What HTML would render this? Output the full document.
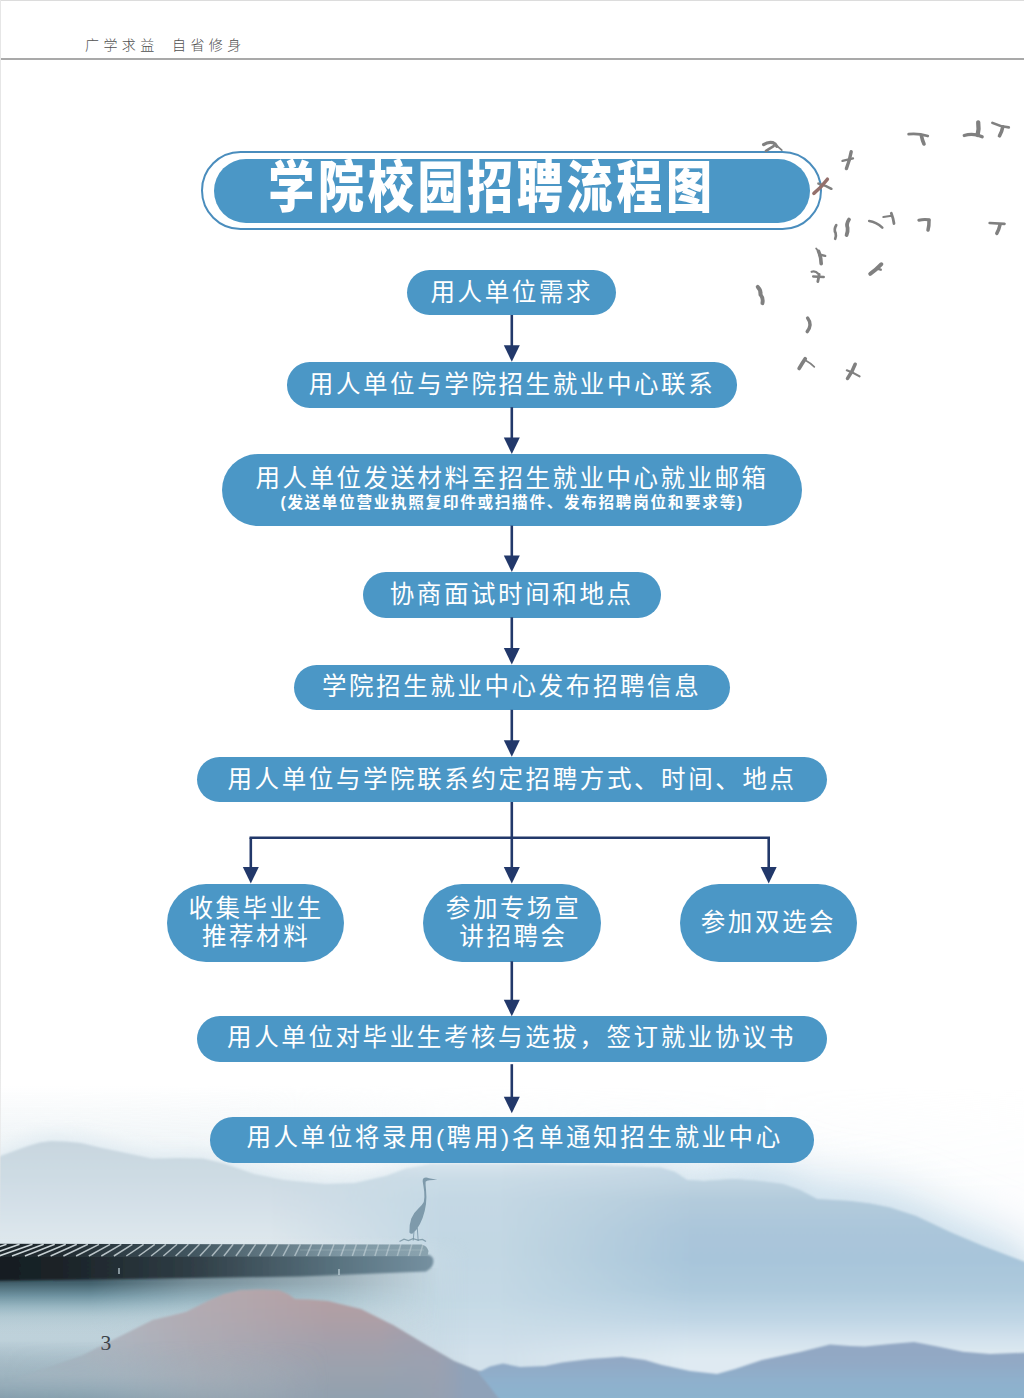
<!DOCTYPE html>
<html lang="zh-CN">
<head>
<meta charset="utf-8">
<title>学院校园招聘流程图</title>
<style>
html,body{margin:0;padding:0;background:#fff}
body{font-family:"Liberation Sans","Noto Sans CJK SC",sans-serif}
.page{position:relative;width:1024px;height:1398px;overflow:hidden;background:#fff}
.bg,.ov,.birds{position:absolute;left:0;top:0;display:block}
.tx{position:absolute;white-space:nowrap;color:#fff;font-weight:normal;font-family:"Liberation Sans","Noto Sans CJK SC",sans-serif}
.hdr{position:absolute;left:0;top:0;width:1024px;height:58px;margin:0}
.hline{position:absolute;left:0;top:58px;width:1024px;height:2px;background:#a9a9a9}
.frame-t{position:absolute;left:0;top:0;width:1024px;height:1px;background:#dcdcdc}
.frame-l{position:absolute;left:0;top:0;width:1px;height:1240px;background:linear-gradient(#e6e6e6,#e6e6e6 85%,rgba(230,230,230,0))}
.banner-o{position:absolute;left:201px;top:151px;width:616.5px;height:74.6px;border:2px solid #4a8dbd;border-radius:40px;box-sizing:content-box}
.banner{position:absolute;left:214px;top:159px;width:596px;height:63.5px;border-radius:32px;background:#4b97c6;margin:0}
.pill{position:absolute;background:#4b97c6}
.pno{position:absolute;left:100.5px;top:1329.5px;font-family:"Liberation Serif",serif;font-size:21.5px;line-height:26px;color:#3c4248}

</style>
</head>
<body>
<div class="page">
<svg class="bg" width="1024" height="1398" viewBox="0 0 1024 1398">
<defs><linearGradient id="sky" gradientUnits="userSpaceOnUse" x1="0" y1="1085" x2="0" y2="1190"><stop offset="0.0000" stop-color="#eef3f6" stop-opacity="0"/><stop offset="0.4286" stop-color="#f0f5f7" stop-opacity="0.8"/><stop offset="1.0000" stop-color="#e9f0f4"/></linearGradient><linearGradient id="mSkyG" gradientUnits="userSpaceOnUse" x1="0" y1="0" x2="1024" y2="0"><stop offset="0.0000" stop-color="#fff" stop-opacity="1"/><stop offset="0.2441" stop-color="#fff" stop-opacity="0.9"/><stop offset="0.4102" stop-color="#fff" stop-opacity="0.45"/><stop offset="0.5859" stop-color="#fff" stop-opacity="0.3"/><stop offset="1.0000" stop-color="#fff" stop-opacity="0.1"/></linearGradient><mask id="mSky" maskUnits="userSpaceOnUse" x="-10" y="1060" width="1044" height="340"><rect x="-10" y="1060" width="1044" height="340" fill="url(#mSkyG)"/></mask><linearGradient id="farL" gradientUnits="userSpaceOnUse" x1="0" y1="1141" x2="0" y2="1245"><stop offset="0.0000" stop-color="#c8d6df"/><stop offset="0.3269" stop-color="#cddbe3"/><stop offset="0.6154" stop-color="#d4e0e8"/><stop offset="1.0000" stop-color="#dfe8ed"/></linearGradient><linearGradient id="farMid" gradientUnits="userSpaceOnUse" x1="0" y1="1164" x2="0" y2="1356"><stop offset="0.0000" stop-color="#d6e4ec"/><stop offset="0.0833" stop-color="#c9dbe6"/><stop offset="0.1875" stop-color="#c4d8e4"/><stop offset="0.4479" stop-color="#c2d7e3"/><stop offset="0.7083" stop-color="#c4d9e5"/><stop offset="0.8646" stop-color="#cbdde8"/><stop offset="1.0000" stop-color="#d2e1eb"/></linearGradient><linearGradient id="mMidG" gradientUnits="userSpaceOnUse" x1="0" y1="0" x2="1024" y2="0"><stop offset="0.0000" stop-color="#fff" stop-opacity="0"/><stop offset="0.2637" stop-color="#fff" stop-opacity="0"/><stop offset="0.4297" stop-color="#fff" stop-opacity="1"/><stop offset="1.0000" stop-color="#fff" stop-opacity="1"/></linearGradient><mask id="mMid" maskUnits="userSpaceOnUse" x="-10" y="1060" width="1044" height="340"><rect x="-10" y="1060" width="1044" height="340" fill="url(#mMidG)"/></mask><linearGradient id="farR" gradientUnits="userSpaceOnUse" x1="0" y1="1165" x2="0" y2="1358"><stop offset="0.0000" stop-color="#c5d8e5"/><stop offset="0.1036" stop-color="#bdd2e0"/><stop offset="0.1813" stop-color="#b3cbdc"/><stop offset="0.3368" stop-color="#abc6da"/><stop offset="0.4922" stop-color="#a8c5da"/><stop offset="0.6477" stop-color="#aecadd"/><stop offset="0.8031" stop-color="#c0d6e5"/><stop offset="0.9067" stop-color="#d3e2ed"/><stop offset="1.0000" stop-color="#dfeaf2"/></linearGradient><linearGradient id="mRG" gradientUnits="userSpaceOnUse" x1="0" y1="0" x2="1024" y2="0"><stop offset="0.0000" stop-color="#fff" stop-opacity="0"/><stop offset="0.4883" stop-color="#fff" stop-opacity="0"/><stop offset="0.6738" stop-color="#fff" stop-opacity="1"/><stop offset="1.0000" stop-color="#fff" stop-opacity="1"/></linearGradient><mask id="mR" maskUnits="userSpaceOnUse" x="-10" y="1060" width="1044" height="340"><rect x="-10" y="1060" width="1044" height="340" fill="url(#mRG)"/></mask><linearGradient id="water" gradientUnits="userSpaceOnUse" x1="0" y1="1236" x2="0" y2="1398"><stop offset="0.0000" stop-color="#dfe8ed" stop-opacity="0"/><stop offset="0.1605" stop-color="#cfdde5"/><stop offset="0.3951" stop-color="#bfd3dc"/><stop offset="0.6481" stop-color="#bed1da"/><stop offset="0.7160" stop-color="#b6cad4"/><stop offset="0.8580" stop-color="#a5bac5"/><stop offset="1.0000" stop-color="#94abb7"/></linearGradient><linearGradient id="mWG" gradientUnits="userSpaceOnUse" x1="0" y1="0" x2="1024" y2="0"><stop offset="0.0000" stop-color="#fff" stop-opacity="1"/><stop offset="0.3223" stop-color="#fff" stop-opacity="1"/><stop offset="0.4590" stop-color="#fff" stop-opacity="0"/><stop offset="1.0000" stop-color="#fff" stop-opacity="0"/></linearGradient><mask id="mW" maskUnits="userSpaceOnUse" x="-10" y="1060" width="1044" height="340"><rect x="-10" y="1060" width="1044" height="340" fill="url(#mWG)"/></mask><linearGradient id="shadow" gradientUnits="userSpaceOnUse" x1="0" y1="1268" x2="0" y2="1334"><stop offset="0.0000" stop-color="#2f4853"/><stop offset="0.2424" stop-color="#45636f"/><stop offset="0.4242" stop-color="#6b909e" stop-opacity="0.95"/><stop offset="0.5909" stop-color="#8fb0bc" stop-opacity="0.8"/><stop offset="0.7576" stop-color="#a9c3cd" stop-opacity="0.5"/><stop offset="1.0000" stop-color="#b9ced7" stop-opacity="0"/></linearGradient><linearGradient id="mSG" gradientUnits="userSpaceOnUse" x1="0" y1="0" x2="1024" y2="0"><stop offset="0.0000" stop-color="#fff" stop-opacity="1"/><stop offset="0.0879" stop-color="#fff" stop-opacity="1"/><stop offset="0.1855" stop-color="#fff" stop-opacity="0.62"/><stop offset="0.3320" stop-color="#fff" stop-opacity="0.3"/><stop offset="0.4297" stop-color="#fff" stop-opacity="0"/><stop offset="1.0000" stop-color="#fff" stop-opacity="0"/></linearGradient><mask id="mS" maskUnits="userSpaceOnUse" x="-10" y="1240" width="1044" height="120"><rect x="-10" y="1240" width="1044" height="120" fill="url(#mSG)"/></mask><linearGradient id="pierTop" gradientUnits="userSpaceOnUse" x1="0" y1="0" x2="432" y2="0"><stop offset="0" stop-color="#1e282d"/><stop offset=".14" stop-color="#202a30"/><stop offset=".44" stop-color="#41555f"/><stop offset=".79" stop-color="#7e97a3"/><stop offset="1" stop-color="#8aa3af"/></linearGradient><linearGradient id="pierSide" gradientUnits="userSpaceOnUse" x1="0" y1="0" x2="432" y2="0"><stop offset="0" stop-color="#171e23"/><stop offset=".14" stop-color="#1b2328"/><stop offset=".44" stop-color="#2f3d45"/><stop offset=".79" stop-color="#5a7481"/><stop offset="1" stop-color="#7590a0"/></linearGradient><linearGradient id="red" gradientUnits="userSpaceOnUse" x1="0" y1="1289" x2="0" y2="1398"><stop offset="0.0000" stop-color="#b59fa2"/><stop offset="0.2844" stop-color="#ad9fa6"/><stop offset="0.5138" stop-color="#a3a0ab"/><stop offset="0.7431" stop-color="#9ba2ae"/><stop offset="1.0000" stop-color="#92a1af"/></linearGradient><linearGradient id="redL" gradientUnits="userSpaceOnUse" x1="0" y1="0" x2="330" y2="0"><stop offset="0" stop-color="#a9bcc7" stop-opacity=".95"/><stop offset=".35" stop-color="#b2bcc6" stop-opacity=".75"/><stop offset=".62" stop-color="#b3b3bb" stop-opacity=".55"/><stop offset="1" stop-color="#b3b3bb" stop-opacity="0"/></linearGradient><linearGradient id="redR" gradientUnits="userSpaceOnUse" x1="380" y1="0" x2="500" y2="0"><stop offset="0" stop-color="#8fa2b9" stop-opacity="0"/><stop offset=".45" stop-color="#9aa0b2" stop-opacity=".5"/><stop offset=".7" stop-color="#8fa2b9" stop-opacity=".95"/><stop offset="1" stop-color="#8fa2b9" stop-opacity="1"/></linearGradient><linearGradient id="front" gradientUnits="userSpaceOnUse" x1="0" y1="1342" x2="0" y2="1398"><stop offset="0.0000" stop-color="#93a8c4"/><stop offset="0.3571" stop-color="#92a9c5"/><stop offset="0.6786" stop-color="#8fb0cc"/><stop offset="1.0000" stop-color="#8cb3cf"/></linearGradient><filter id="b07" x="-5%" y="-5%" width="110%" height="110%"><feGaussianBlur stdDeviation=".8"/></filter><filter id="b1" x="-5%" y="-20%" width="110%" height="140%"><feGaussianBlur stdDeviation="1.1"/></filter><filter id="b22" x="-10%" y="-40%" width="120%" height="180%"><feGaussianBlur stdDeviation="22"/></filter><linearGradient id="mHaloG" gradientUnits="userSpaceOnUse" x1="0" y1="0" x2="1024" y2="0"><stop offset="0.0000" stop-color="#fff" stop-opacity="0"/><stop offset="0.5469" stop-color="#fff" stop-opacity="0"/><stop offset="0.7422" stop-color="#fff" stop-opacity="1"/><stop offset="1.0000" stop-color="#fff" stop-opacity="1"/></linearGradient><mask id="mHalo" maskUnits="userSpaceOnUse" x="-10" y="1060" width="1044" height="340"><rect x="-10" y="1060" width="1044" height="340" fill="url(#mHaloG)"/></mask><linearGradient id="cornerBL" gradientUnits="userSpaceOnUse" x1="0" y1="1340" x2="0" y2="1398"><stop offset="0.0000" stop-color="#93aab6" stop-opacity="0"/><stop offset="0.6034" stop-color="#99afbb" stop-opacity="0.55"/><stop offset="0.8966" stop-color="#8ea6b3"/><stop offset="1.0000" stop-color="#869fad"/></linearGradient><linearGradient id="mBLG" gradientUnits="userSpaceOnUse" x1="0" y1="0" x2="1024" y2="0"><stop offset="0.0000" stop-color="#fff" stop-opacity="1"/><stop offset="0.0879" stop-color="#fff" stop-opacity="0.9"/><stop offset="0.1953" stop-color="#fff" stop-opacity="0.45"/><stop offset="0.3223" stop-color="#fff" stop-opacity="0"/><stop offset="1.0000" stop-color="#fff" stop-opacity="0"/></linearGradient><mask id="mBL" maskUnits="userSpaceOnUse" x="-10" y="1330" width="1044" height="70"><rect x="-10" y="1330" width="1044" height="70" fill="url(#mBLG)"/></mask><filter id="b10" x="-5%" y="-20%" width="110%" height="140%"><feGaussianBlur stdDeviation="9"/></filter></defs>
<rect width="1024" height="1398" fill="#fff"/>
<rect x="0" y="1085" width="1024" height="200" fill="url(#sky)" mask="url(#mSky)"/>
<path d="M-5 1158L14 1151L28 1146L40 1142.5L51 1141L66 1141.5L81 1143L102 1148L126 1153L152 1158.5L180 1158L203 1158.6L224 1163.6L254 1174L284 1180L325 1184L355 1183L386 1176L406 1168.7L430 1164.5L512 1164L600 1165.5L660 1167.5L675 1172L687 1180L704 1181L734 1179L760 1181L783 1184L800 1190L817 1199L833 1200L850 1201L870 1203.5L890 1207.5L916 1216L950 1232L983 1246L1030 1264V1400H-5Z" fill="#dce8f0" opacity=".8" transform="translate(0 -6)" filter="url(#b10)"/>
<path d="M-5 1158L14 1151L28 1146L40 1142.5L51 1141L66 1141.5L81 1143L102 1148L126 1153L152 1158.5L180 1158L203 1158.6L224 1163.6L254 1174L284 1180L325 1184L355 1183L386 1176L406 1168.7L430 1164.5L512 1164L600 1165.5L660 1167.5L675 1172L687 1180L704 1181L734 1179L760 1181L783 1184L800 1190L817 1199L833 1200L850 1201L870 1203.5L890 1207.5L916 1216L950 1232L983 1246L1030 1264V1400H-5Z" fill="#d0e2ee" transform="translate(0 -20)" filter="url(#b22)" mask="url(#mHalo)"/>
<g filter="url(#b07)">
<path d="M-5 1158L14 1151L28 1146L40 1142.5L51 1141L66 1141.5L81 1143L102 1148L126 1153L152 1158.5L180 1158L203 1158.6L224 1163.6L254 1174L284 1180L325 1184L355 1183L386 1176L406 1168.7L430 1164.5L512 1164L600 1165.5L660 1167.5L675 1172L687 1180L704 1181L734 1179L760 1181L783 1184L800 1190L817 1199L833 1200L850 1201L870 1203.5L890 1207.5L916 1216L950 1232L983 1246L1030 1264V1400H-5Z" fill="url(#farL)"/>
<path d="M-5 1158L14 1151L28 1146L40 1142.5L51 1141L66 1141.5L81 1143L102 1148L126 1153L152 1158.5L180 1158L203 1158.6L224 1163.6L254 1174L284 1180L325 1184L355 1183L386 1176L406 1168.7L430 1164.5L512 1164L600 1165.5L660 1167.5L675 1172L687 1180L704 1181L734 1179L760 1181L783 1184L800 1190L817 1199L833 1200L850 1201L870 1203.5L890 1207.5L916 1216L950 1232L983 1246L1030 1264V1400H-5Z" fill="url(#farMid)" mask="url(#mMid)"/>
<path d="M-5 1158L14 1151L28 1146L40 1142.5L51 1141L66 1141.5L81 1143L102 1148L126 1153L152 1158.5L180 1158L203 1158.6L224 1163.6L254 1174L284 1180L325 1184L355 1183L386 1176L406 1168.7L430 1164.5L512 1164L600 1165.5L660 1167.5L675 1172L687 1180L704 1181L734 1179L760 1181L783 1184L800 1190L817 1199L833 1200L850 1201L870 1203.5L890 1207.5L916 1216L950 1232L983 1246L1030 1264V1400H-5Z" fill="url(#farR)" mask="url(#mR)"/>
</g>
<rect x="0" y="1236" width="1024" height="162" fill="url(#water)" mask="url(#mW)"/>
<rect x="-10" y="1268" width="480" height="66" fill="url(#shadow)" mask="url(#mS)"/>
<g id="pier">
<path d="M-4 1255L427 1254.5Q433.5 1255.5 433.5 1261Q433.5 1267.5 426 1271.5L300 1276.5L-4 1281Z" fill="url(#pierSide)" filter="url(#b1)"/>
<path d="M-2 1243.8L422 1244.6Q427 1246 428.5 1251L427.5 1256L-2 1257Z" fill="url(#pierTop)"/>
<g stroke="#e3ecef" stroke-width="1.5" fill="none"><path d="M-40.0 1256L-6.5 1244.3" stroke-opacity="0.90"/><path d="M-27.0 1256L6.5 1244.3" stroke-opacity="0.90"/><path d="M-14.0 1256L19.5 1244.3" stroke-opacity="0.90"/><path d="M-1.0 1256L32.5 1244.3" stroke-opacity="0.90"/><path d="M12.0 1256L43.7 1244.3" stroke-opacity="0.88"/><path d="M24.9 1256L54.7 1244.3" stroke-opacity="0.87"/><path d="M37.8 1256L65.8 1244.3" stroke-opacity="0.85"/><path d="M50.6 1256L76.8 1244.3" stroke-opacity="0.83"/><path d="M63.4 1256L87.9 1244.3" stroke-opacity="0.82"/><path d="M76.1 1256L99.0 1244.3" stroke-opacity="0.80"/><path d="M88.8 1256L110.1 1244.3" stroke-opacity="0.78"/><path d="M101.3 1256L121.3 1244.3" stroke-opacity="0.77"/><path d="M113.9 1256L132.4 1244.3" stroke-opacity="0.75"/><path d="M126.3 1256L143.6 1244.3" stroke-opacity="0.74"/><path d="M138.7 1256L154.8 1244.3" stroke-opacity="0.72"/><path d="M151.1 1256L165.9 1244.3" stroke-opacity="0.70"/><path d="M163.4 1256L177.1 1244.3" stroke-opacity="0.69"/><path d="M175.6 1256L188.3 1244.3" stroke-opacity="0.67"/><path d="M187.8 1256L199.5 1244.3" stroke-opacity="0.66"/><path d="M199.9 1256L210.7 1244.3" stroke-opacity="0.64"/><path d="M211.9 1256L222.0 1244.3" stroke-opacity="0.63"/><path d="M223.9 1256L233.2 1244.3" stroke-opacity="0.61"/><path d="M235.9 1256L244.4 1244.3" stroke-opacity="0.59"/><path d="M247.8 1256L255.6 1244.3" stroke-opacity="0.58"/><path d="M259.6 1256L266.8 1244.3" stroke-opacity="0.56"/><path d="M271.4 1256L278.0 1244.3" stroke-opacity="0.55"/><path d="M283.1 1256L289.2 1244.3" stroke-opacity="0.53"/><path d="M294.7 1256L300.4 1244.3" stroke-opacity="0.52"/><path d="M306.4 1256L311.6 1244.3" stroke-opacity="0.50"/><path d="M317.9 1256L322.8 1244.3" stroke-opacity="0.49"/><path d="M329.4 1256L334.0 1244.3" stroke-opacity="0.47"/><path d="M340.9 1256L345.2 1244.3" stroke-opacity="0.46"/><path d="M352.3 1256L356.4 1244.3" stroke-opacity="0.44"/><path d="M363.6 1256L367.5 1244.3" stroke-opacity="0.43"/><path d="M374.9 1256L378.6 1244.3" stroke-opacity="0.41"/><path d="M386.1 1256L389.8 1244.3" stroke-opacity="0.40"/><path d="M397.3 1256L400.9 1244.3" stroke-opacity="0.38"/><path d="M408.4 1256L411.9 1244.3" stroke-opacity="0.37"/><path d="M419.5 1256L423.0 1244.3" stroke-opacity="0.36"/></g>
<path d="M300 1250H424" stroke="#d5e2e8" stroke-width=".8" stroke-opacity=".3"/>
<path d="M119 1268v6M339 1269v6" stroke="#c8d8e0" stroke-width="2" stroke-opacity=".6"/>
</g>
<g filter="url(#b07)">
<path d="M-5 1385L20 1377L44 1369L82 1355.7L120 1336.5L153 1320L170 1316L186 1312L208 1301L224 1294L240 1290.3L260 1289.5L279 1290.3L288 1294L295 1299L310 1299.5L328 1301L361 1309L394 1325.6L426 1344.7L454 1361L481 1372L514 1391L530 1400H-5Z" fill="url(#red)"/>
<path d="M-5 1385L20 1377L44 1369L82 1355.7L120 1336.5L153 1320L170 1316L186 1312L208 1301L224 1294L240 1290.3L260 1289.5L279 1290.3L288 1294L295 1299L310 1299.5L328 1301L361 1309L394 1325.6L426 1344.7L454 1361L481 1372L514 1391L530 1400H-5Z" fill="url(#redL)"/>
<path d="M-5 1385L20 1377L44 1369L82 1355.7L120 1336.5L153 1320L170 1316L186 1312L208 1301L224 1294L240 1290.3L260 1289.5L279 1290.3L288 1294L295 1299L310 1299.5L328 1301L361 1309L394 1325.6L426 1344.7L454 1361L481 1372L514 1391L530 1400H-5Z" fill="url(#redR)"/>
</g>
<rect x="0" y="1340" width="340" height="58" fill="url(#cornerBL)" mask="url(#mBL)"/>
<path d="M500 1400L486 1382L478 1372.5L490 1366.5L503 1363.5L520 1367L545 1366L562 1362.5L590 1359L622 1356.7L645 1360L662 1365L690 1371L717 1374L735 1369L762 1360L800 1352L830 1344.4L850 1346L865 1346.5L890 1344L914 1342L935 1346L963 1351.8L990 1354L1030 1352.5V1400Z" fill="url(#front)" filter="url(#b07)"/>
<g id="heron" fill="#7e9aab">
<path d="M437.4 1179.7L429 1178.3Q426 1176.9 423.8 1178.1Q422.3 1179.4 422.7 1181.6Q423.6 1186.5 424.2 1191.5Q424.8 1197.5 423.8 1202Q422 1205.5 418.4 1208.5Q413.6 1212.8 411.3 1218.5Q409 1225 409.4 1232.4Q410.8 1234.2 412.6 1233.4Q414.6 1231.5 416.6 1229.5Q420.2 1224.5 422.6 1218Q425 1211.5 426 1204Q426.8 1196.5 426 1189.5Q425.4 1184.6 425.6 1181.8Q426.6 1180.4 429.5 1180.3Z"/>
<path d="M417.3 1228L418.2 1241M414 1231.5L413.2 1240.6" stroke="#7e9aab" stroke-width=".9" fill="none"/>
<path d="M399.5 1241.5L404 1239.2L408.5 1240.6L413 1238.6L418 1240.2L422.5 1239.4L426 1241.5" stroke="#6f8c9b" stroke-width="1.3" fill="none" opacity=".75"/>
</g>
</svg>

<div class="hdr"><span class="tx" style="left:85px;top:36px;font-size:14px;letter-spacing:4.4px;word-spacing:5.1px;line-height:18px;color:#4f4f4f;font-weight:300">广学求益 自省修身</span></div>
<div class="hline"></div>
<div class="frame-t"></div><div class="frame-l"></div>
<div class="banner-o"></div>
<h1 class="banner"><span class="tx" style="left:54.3px;top:6px;font-size:46.0px;letter-spacing:3.7px;line-height:52px;font-weight:900;display:inline-block;transform:scaleY(1.2);transform-origin:0 41.8px">学院校园招聘流程图</span></h1>
<svg class="birds" width="1024" height="1398" viewBox="0 0 1024 1398">
<defs><filter id="bb" x="-20%" y="-20%" width="140%" height="140%"><feGaussianBlur stdDeviation=".4"/></filter></defs>
<g fill="none" stroke="#808080" stroke-linecap="round" stroke-linejoin="round" filter="url(#bb)">
<path d="M763.6 144.6Q768 141.6 772.7 142.6Q775.5 143.6 776.8 146.4" stroke-width="3.2"/><path d="M773 143Q778 146.5 781.8 150.2" stroke-width="1.7"/><path d="M766 150.9L773.6 146.2" stroke-width="2.7"/>
<path d="M851.2 151.8Q849.8 160 846.4 168.6" stroke-width="3.4"/><path d="M842.5 160.9L853 158.3" stroke-width="2.3"/>
<path d="M818.4 183.6Q825 185.2 831.4 188.8" stroke-width="2.5"/><path d="M813.9 193.4Q821 187.6 827.4 179.2" stroke="#94706c" stroke-width="3.5"/>
<path d="M908.6 134.2Q918 133.2 927.8 136" stroke-width="2.7"/><path d="M921.4 135.6Q922.2 140 924 144" stroke-width="3.6"/>
<path d="M978.2 122.4Q979.2 129 977.6 135" stroke-width="4.3"/><path d="M964.2 135.6Q973 132.8 982.2 136.8" stroke-width="3.2"/>
<path d="M992.4 122.9Q1000 126.6 1008.8 127.4" stroke-width="2.7"/><path d="M1002.8 126.8Q1002 131.5 999.5 135.8" stroke-width="3.6"/>
<path d="M836.2 225.2Q833.6 229.5 835.6 233Q836.4 236 835.2 238.8" stroke-width="2.7"/>
<path d="M849 219.5Q846 224 847.6 228Q848 232 846.6 235" stroke-width="3.8"/>
<path d="M869.2 221Q876 221.8 882.3 227.6" stroke-width="2.6"/>
<path d="M891.3 213.2Q893.4 218.5 894 223.5" stroke-width="2.8"/><path d="M883.4 217L891.6 215.8" stroke-width="2.1"/>
<path d="M918.8 220.2Q924 218.8 929.2 219.8" stroke-width="3.0"/><path d="M929 220.6Q929.2 225.5 928 230" stroke-width="3.5"/>
<path d="M989.7 223L1004.5 223.8" stroke-width="2.7"/><path d="M1000 224.8Q999 229.4 996.8 233.4" stroke-width="3.5"/>
<path d="M816.2 248.5L818.6 251.6" stroke-width="1.9"/><path d="M818.6 251.4Q821 257 821.2 263.6" stroke-width="3.6"/><path d="M821.2 255L825.2 255.9" stroke-width="2.4"/>
<path d="M811.6 271.8Q815.5 270.6 818.2 273.8" stroke-width="2.2"/><path d="M813.2 276.4L823.7 276.9" stroke-width="2.5"/><path d="M819.2 274.4Q818.6 278 817.8 281.6" stroke-width="2.8"/>
<path d="M870.2 273.9Q876.5 269.4 881.4 264.2" stroke-width="3.9"/><path d="M877.8 268.8L880.8 269.7" stroke-width="2.3"/>
<path d="M757.7 286.8Q761.4 290.6 760.4 294.6Q763.6 298.5 762.4 303.2" stroke-width="3.9"/>
<path d="M807.6 318Q812.6 324.6 807.2 331.6" stroke-width="3.4"/>
<path d="M799.2 368.4Q802.5 362.8 805.2 358.8" stroke-width="3.8"/><path d="M805.4 360.2Q810.5 363 814.3 366.8" stroke-width="1.7"/>
<path d="M847.5 378.5Q852.6 371.5 855.2 364.2" stroke-width="3.5"/><path d="M846.8 370.3Q853.5 372.8 859.6 376.3" stroke-width="2.1"/>
</g>
</svg>

<div class="pill" style="left:407.3px;top:269.6px;width:209.2px;height:45.8px;border-radius:22.9px"><span class="tx" style="left:23.2px;top:8.0px;font-size:24.5px;letter-spacing:2.6px;line-height:29.4px">用人单位需求</span></div>
<div class="pill" style="left:286.7px;top:362.3px;width:450.8px;height:45.3px;border-radius:22.7px"><span class="tx" style="left:22.1px;top:7.8px;font-size:24.5px;letter-spacing:2.6px;line-height:29.4px">用人单位与学院招生就业中心联系</span></div>
<div class="pill" style="left:221.5px;top:454.0px;width:580.5px;height:72.0px;border-radius:36.0px"><span class="tx" style="left:34.1px;top:9.6px;font-size:24.5px;letter-spacing:2.5px;line-height:29.4px">用人单位发送材料至招生就业中心就业邮箱</span><span class="tx" style="left:58.9px;top:39.7px;font-size:15.6px;letter-spacing:1.7px;line-height:18.7px;font-weight:bold">(发送单位营业执照复印件或扫描件、发布招聘岗位和要求等)</span></div>
<div class="pill" style="left:363.0px;top:572.0px;width:297.5px;height:45.7px;border-radius:22.9px"><span class="tx" style="left:26.7px;top:7.9px;font-size:24.5px;letter-spacing:2.6px;line-height:29.4px">协商面试时间和地点</span></div>
<div class="pill" style="left:293.8px;top:664.5px;width:435.9px;height:45.7px;border-radius:22.9px"><span class="tx" style="left:28.1px;top:7.9px;font-size:24.5px;letter-spacing:2.6px;line-height:29.4px">学院招生就业中心发布招聘信息</span></div>
<div class="pill" style="left:197.0px;top:756.8px;width:630.3px;height:45.7px;border-radius:22.9px"><span class="tx" style="left:30.5px;top:7.9px;font-size:24.5px;letter-spacing:2.6px;line-height:29.4px">用人单位与学院联系约定招聘方式、时间、地点</span></div>
<div class="pill" style="left:166.6px;top:883.7px;width:177.6px;height:78.0px;border-radius:39.0px"><span class="tx" style="left:21.8px;top:10.0px;font-size:24.5px;letter-spacing:2.6px;line-height:29.4px">收集毕业生</span><span class="tx" style="left:35.3px;top:38.6px;font-size:24.5px;letter-spacing:2.6px;line-height:29.4px">推荐材料</span></div>
<div class="pill" style="left:423.4px;top:883.7px;width:177.4px;height:78.0px;border-radius:39.0px"><span class="tx" style="left:22.4px;top:10.2px;font-size:24.5px;letter-spacing:2.6px;line-height:29.4px">参加专场宣</span><span class="tx" style="left:35.9px;top:38.8px;font-size:24.5px;letter-spacing:2.6px;line-height:29.4px">讲招聘会</span></div>
<div class="pill" style="left:679.7px;top:883.7px;width:177.7px;height:78.0px;border-radius:39.0px"><span class="tx" style="left:21.0px;top:24.1px;font-size:24.5px;letter-spacing:2.6px;line-height:29.4px">参加双选会</span></div>
<div class="pill" style="left:197.0px;top:1016.3px;width:629.5px;height:45.7px;border-radius:22.9px"><span class="tx" style="left:30.1px;top:7.1px;font-size:24.5px;letter-spacing:2.6px;line-height:29.4px">用人单位对毕业生考核与选拔，签订就业协议书</span></div>
<div class="pill" style="left:209.8px;top:1117.0px;width:603.9px;height:45.6px;border-radius:22.8px"><span class="tx" style="left:36.6px;top:6.0px;font-size:24.5px;letter-spacing:2.6px;line-height:29.4px">用人单位将录用(聘用)名单通知招生就业中心</span></div>
<svg class="ov" width="1024" height="1398" viewBox="0 0 1024 1398">
<g id="arrows"><path d="M511.80 315.00V346.30" stroke="#22386a" stroke-width="2.60" fill="none"/><path d="M503.80 345.30h16.00l-8.00 16.50z" fill="#22386a"/><path d="M511.80 407.20V438.50" stroke="#22386a" stroke-width="2.60" fill="none"/><path d="M503.80 437.50h16.00l-8.00 16.50z" fill="#22386a"/><path d="M511.80 525.60V556.50" stroke="#22386a" stroke-width="2.60" fill="none"/><path d="M503.80 555.50h16.00l-8.00 16.50z" fill="#22386a"/><path d="M511.80 617.30V649.00" stroke="#22386a" stroke-width="2.60" fill="none"/><path d="M503.80 648.00h16.00l-8.00 16.50z" fill="#22386a"/><path d="M511.80 709.80V741.30" stroke="#22386a" stroke-width="2.60" fill="none"/><path d="M503.80 740.30h16.00l-8.00 16.50z" fill="#22386a"/><path d="M511.80 802.00V868.10" stroke="#22386a" stroke-width="2.60" fill="none"/><path d="M503.80 867.10h16.00l-8.00 16.50z" fill="#22386a"/><path d="M250.80 837.70V868.10" stroke="#22386a" stroke-width="2.60" fill="none"/><path d="M242.80 867.10h16.00l-8.00 16.50z" fill="#22386a"/><path d="M768.70 837.70V868.10" stroke="#22386a" stroke-width="2.60" fill="none"/><path d="M760.70 867.10h16.00l-8.00 16.50z" fill="#22386a"/><path d="M511.80 961.30V1000.80" stroke="#22386a" stroke-width="2.60" fill="none"/><path d="M503.80 999.80h16.00l-8.00 16.50z" fill="#22386a"/><path d="M511.80 1064.20V1097.70" stroke="#22386a" stroke-width="2.60" fill="none"/><path d="M503.80 1096.70h16.00l-8.00 16.50z" fill="#22386a"/><path d="M249.5 837.7H770" stroke="#22386a" stroke-width="2.6" fill="none"/></g>
</svg>
<div class="pno">3</div>
</div>
</body>
</html>
